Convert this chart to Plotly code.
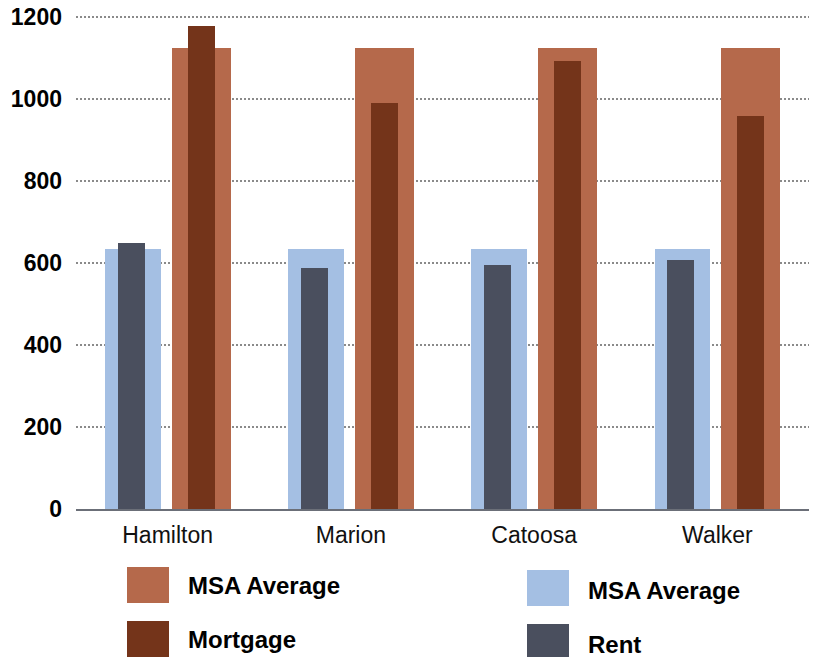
import plotly.graph_objects as go

counties = ["Hamilton", "Marion", "Catoosa", "Walker"]
rent = [649, 588, 595, 607]
rent_msa = [634, 634, 634, 634]
mortgage = [1178, 990, 1093, 958]
mortgage_msa = [1124, 1124, 1124, 1124]
y_ticks = [0, 200, 400, 600, 800, 1000, 1200]

C_RENT_MSA = "#a4bfe3"
C_RENT = "#4a4f5e"
C_MORT_MSA = "#b5694b"
C_MORT = "#74341a"

legend_left = [("MSA Average", C_MORT_MSA), ("Mortgage", C_MORT)]
legend_right = [("MSA Average", C_RENT_MSA), ("Rent", C_RENT)]

W, H = 814, 657
ML, MR, MT, MB = 76, 5, 5, 148
PW, PH = W - ML - MR, H - MT - MB


def px_x(px):
    return (px - ML) / PW


def px_y(py):
    return (H - MB - py) / PH


fig = go.Figure()
fig.add_trace(go.Bar(x=counties, y=rent_msa, name="MSA Average", marker_color=C_RENT_MSA,
                     width=0.305, offset=-0.343, marker_line_width=0, showlegend=False))
fig.add_trace(go.Bar(x=counties, y=rent, name="Rent", marker_color=C_RENT,
                     width=0.147, offset=-0.2725, marker_line_width=0, showlegend=False))
fig.add_trace(go.Bar(x=counties, y=mortgage_msa, name="MSA Average", marker_color=C_MORT_MSA,
                     width=0.3215, offset=0.0218, marker_line_width=0, showlegend=False))
fig.add_trace(go.Bar(x=counties, y=mortgage, name="Mortgage", marker_color=C_MORT,
                     width=0.147, offset=0.109, marker_line_width=0, showlegend=False))

shapes = []
annotations = []


def add_legend(items, x0, tops, text_x, text_ys):
    for (label, color), top, ty in zip(items, tops, text_ys):
        shapes.append(dict(type="rect", xref="paper", yref="paper",
                           x0=px_x(x0), x1=px_x(x0 + 42), y0=px_y(top + 36), y1=px_y(top),
                           fillcolor=color, line_width=0))
        annotations.append(dict(xref="paper", yref="paper", x=px_x(text_x), y=px_y(ty),
                                xanchor="left", yanchor="middle", showarrow=False, text=label,
                                font=dict(family="Liberation Sans, Arial, sans-serif", size=24,
                                          color="#000000", weight="bold")))


add_legend(legend_left, 127, [567, 621], 186, [585, 639])
add_legend(legend_right, 527, [570, 624], 586, [590, 644])

fig.update_layout(
    width=W, height=H,
    margin=dict(l=ML, r=MR, t=MT, b=MB),
    paper_bgcolor="white", plot_bgcolor="white",
    barmode="overlay", bargap=0,
    shapes=shapes, annotations=annotations,
    font=dict(family="Liberation Sans, Arial, sans-serif", color="#000000"),
)
fig.update_xaxes(
    showgrid=False, showline=True, linecolor="#6b6f78", linewidth=2,
    ticks="", tickfont=dict(size=23, color="#111111"), ticklabelstandoff=4,
    range=[-0.5, 3.5],
)
fig.update_yaxes(
    range=[0, PH / 0.41], tickvals=y_ticks, ticktext=[str(v) for v in y_ticks],
    showgrid=True, gridcolor="#8a8a8a", gridwidth=2, griddash="2px,2px",
    zeroline=False, showline=False, ticks="",
    tickfont=dict(size=23, color="#000000", weight="bold"), ticklabelstandoff=13,
)

fig.write_html("out.html")
